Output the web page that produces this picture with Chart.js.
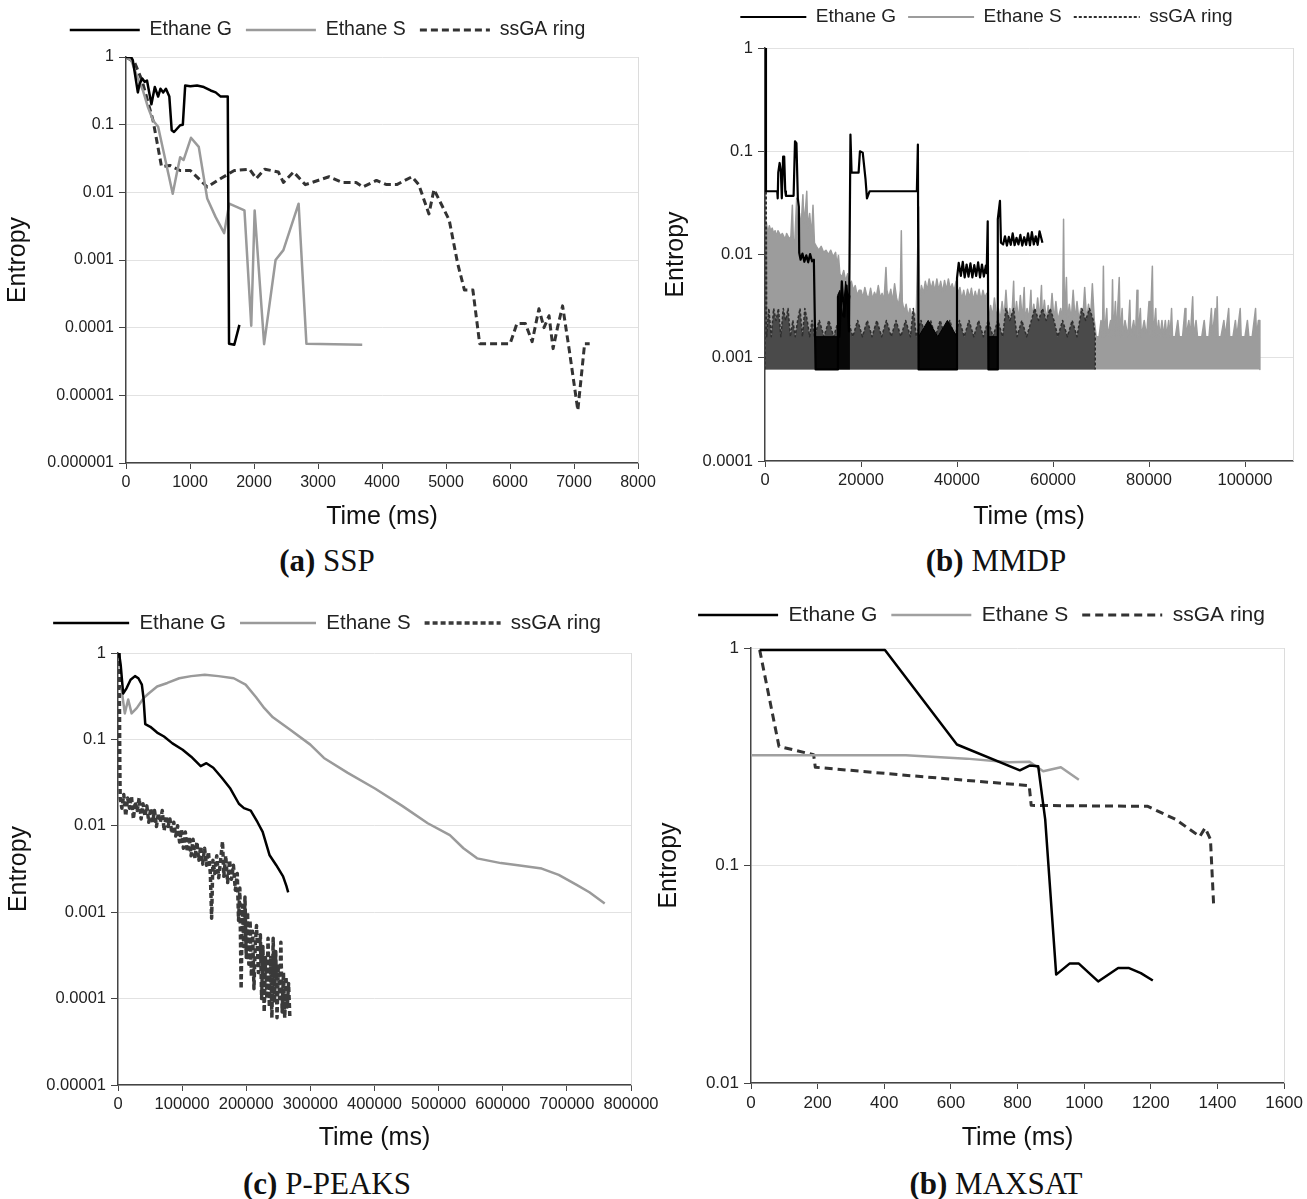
<!DOCTYPE html>
<html>
<head>
<meta charset="utf-8">
<script src="https://cdn.jsdelivr.net/npm/chart.js@4.4.1/dist/chart.umd.min.js"></script>
<style>
  html, body { margin: 0; padding: 0; background: #fff; }
  #page { position: relative; width: 1307px; height: 1199px; overflow: hidden; }
  canvas { position: absolute; }
  .cap { position: absolute; width: 400px; text-align: center; font-family: "Liberation Serif", "Times New Roman", serif; font-size: 31px; line-height: 36px; color: #111; }
</style>
</head>
<body>
<div id="page">
  <canvas id="ssp" width="660" height="532" style="left:0;top:0"></canvas>
  <canvas id="mmdp" width="652" height="532" style="left:655px;top:0"></canvas>
  <canvas id="ppeaks" width="665" height="555" style="left:0;top:600px"></canvas>
  <canvas id="maxsat" width="652" height="555" style="left:655px;top:600px"></canvas>
  <div class="cap" style="left:127px;top:543px"><b>(a)</b> SSP</div>
  <div class="cap" style="left:796px;top:543px"><b>(b)</b> MMDP</div>
  <div class="cap" style="left:127px;top:1166px"><b>(c)</b> P-PEAKS</div>
  <div class="cap" style="left:796px;top:1166px"><b>(b)</b> MAXSAT</div>
</div>
<script>
// ---- SSP ----
const sspYTicks = [1, 0.1, 0.01, 0.001, 0.0001, 0.00001, 0.000001];
const sspXTicks = [0, 1000, 2000, 3000, 4000, 5000, 6000, 7000, 8000];
const sspGTime = [0, 79, 106, 185, 212, 254, 291, 328, 397, 450,
                  502, 539, 582, 624, 677, 714, 751, 846, 888, 925,
                  1005, 1110, 1216, 1322, 1401, 1480, 1534, 1590, 1610, 1692,
                  1772];
const sspGVal = [1, 1, 0.9, 0.30, 0.4, 0.48, 0.43, 0.45, 0.2, 0.36,
                 0.26, 0.34, 0.3, 0.34, 0.26, 0.083, 0.078, 0.098, 0.1, 0.38,
                 0.37, 0.38, 0.36, 0.32, 0.3, 0.26, 0.26, 0.26, 0.000058, 0.000056,
                 0.00011];
const sspSTime = [0, 80, 180, 264, 344, 423, 502, 582, 661, 730,
                  793, 846, 899, 1015, 1137, 1269, 1401, 1534, 1613, 1745,
                  1851, 1957, 2010, 2158, 2337, 2459, 2697, 2819, 3691];
const sspSVal = [1, 0.9, 0.5, 0.32, 0.18, 0.115, 0.093, 0.042, 0.019, 0.0095,
                 0.019, 0.033, 0.03, 0.064, 0.047, 0.0081, 0.0043, 0.0025, 0.0068, 0.006,
                 0.0054, 0.000107, 0.0054, 0.000057, 0.001, 0.0014, 0.0068, 0.000058, 0.000056];
const sspRTime = [0, 132, 250, 423, 555, 687, 846, 1005, 1269, 1480,
                  1692, 1930, 2036, 2168, 2380, 2459, 2618, 2803, 3173, 3384,
                  3596, 3702, 3913, 4072, 4231, 4469, 4574, 4733, 4812, 5050,
                  5182, 5288, 5420, 5526, 6002, 6108, 6240, 6346, 6452, 6531,
                  6610, 6673, 6742, 6822, 6927, 7060, 7166, 7245];
const sspRVal = [1, 0.84, 0.45, 0.115, 0.024, 0.025, 0.021, 0.021, 0.012, 0.016,
                 0.021, 0.022, 0.016, 0.022, 0.020, 0.014, 0.020, 0.013, 0.017, 0.014,
                 0.014, 0.012, 0.015, 0.013, 0.013, 0.017, 0.013, 0.0048, 0.011, 0.0039,
                 0.00089, 0.00036, 0.00036, 0.000058, 0.000058, 0.000115, 0.000115, 0.000062, 0.00019, 0.0001,
                 0.00015, 0.000049, 0.0001, 0.00021, 0.000046, 0.000006, 0.000058, 0.000058];

// ---- MMDP ----
const mmdpYTicks = [1, 0.1, 0.01, 0.001, 0.0001];
const mmdpXTicks = [0, 20000, 40000, 60000, 80000, 100000];
const mmdpBase = 0.00077;
const mmdpGTime = [0, 200, 2550, 2650, 2760, 3050, 3300, 3500, 3780, 4000,
                   4220, 4360, 5960, 6250, 6550, 6840, 7050, 7130, 7420, 7800,
                   8200, 8600, 9000, 9400, 9800, 10180, 10550, 15000, 15200, 15500,
                   16000, 16500, 17000, 17500, 17800, 18040, 19500, 19780, 20360, 20950,
                   21240, 21800, 31640, 31850, 32000, 40000, 40000, 40360, 40800, 41200,
                   41600, 42000, 42400, 42800, 43200, 43600, 44000, 44400, 44800, 45200,
                   45600, 46000, 46180, 46400, 46550, 48400, 48500, 48950, 49160, 49600,
                   50000, 50400, 50800, 51200, 51600, 52000, 52400, 52800, 53200, 53600,
                   54000, 54400, 54800, 55200, 55600, 56000, 56400, 56800, 57200, 57800];
const mmdpGVal = [1, 0.041, 0.041, 0.035, 0.062, 0.077, 0.064, 0.035, 0.089, 0.089,
                  0.041, 0.037, 0.037, 0.125, 0.12, 0.035, 0.029, 0.0104, 0.0089, 0.0102,
                  0.0085, 0.0098, 0.0084, 0.0101, 0.0086, 0.0089, 0.00077, 0.00077, 0.0039, 0.0016,
                  0.0055, 0.0025, 0.005, 0.0018, 0.145, 0.062, 0.062, 0.1, 0.097, 0.053,
                  0.035, 0.041, 0.041, 0.116, 0.00077, 0.00077, 0.0059, 0.0083, 0.0062, 0.0085,
                  0.006, 0.008, 0.0061, 0.0082, 0.006, 0.0079, 0.0062, 0.0084, 0.006, 0.008,
                  0.0061, 0.0078, 0.0066, 0.021, 0.00077, 0.00077, 0.022, 0.033, 0.013, 0.0125,
                  0.015, 0.0122, 0.0148, 0.0124, 0.016, 0.0123, 0.0145, 0.0125, 0.0155, 0.0122,
                  0.0147, 0.0124, 0.016, 0.0123, 0.0165, 0.0125, 0.015, 0.0124, 0.0168, 0.013];
// solid black blocks of Ethane G near the floor
const mmdpGBandTime = [10550, 15000, 15050, 15100, 15600, 16200, 16800, 17400, 17700, 17750,
                       32000, 34000, 36000, 38000, 40000, 40050, 46550, 48400];
const mmdpGBandTop = [0.0016, 0.0016, null, 0.004, 0.0045, 0.0025, 0.0055, 0.003, 0.004, null,
                      0.0016, 0.0023, 0.0016, 0.0023, 0.0016, null, 0.0016, 0.0016];
const mmdpSTime = [0, 300, 600, 900, 1200, 1500, 1800, 2100, 2400, 2700,
  3000, 3300, 3600, 3900, 4200, 4500, 4800, 5100, 5400, 5700,
  5900, 6200, 6600, 6800, 7200, 7500, 7900, 8100, 8500, 8700,
  8900, 9300, 9700, 10000, 10300, 10700, 11200, 11700, 12200, 12700,
  13200, 13700, 14200, 14700, 15000, 15300, 15600, 16000, 16400, 16800,
  17200, 17600, 18000, 18400, 18800, 19200, 19600, 20000, 20400, 20800,
  21200, 21600, 22000, 22400, 22800, 23200, 23600, 24000, 24400, 24800,
  25200, 25400, 25800, 26200, 26600, 27000, 27400, 27800, 28200, 28400,
  28600, 29000, 29400, 29800, 30200, 30600, 31000, 31500, 32000, 32200,
  32600, 33000, 33400, 33800, 34200, 34600, 35000, 35400, 35800, 36200,
  36600, 37000, 37400, 37800, 38200, 38600, 39000, 39400, 39800, 40200,
  40600, 41000, 41400, 41800, 42200, 42600, 43000, 43400, 43800, 44200,
  44600, 45000, 45400, 45800, 46200, 46600, 47000, 47400, 47800, 48200,
  48600, 49000, 49400, 49800, 50200, 50600, 51000, 51400, 51800, 52000,
  52400, 52800, 53200, 53600, 54000, 54200, 54600, 55000, 55400, 55600,
  56000, 56400, 56800, 57200, 57600, 57800, 58200, 58600, 59000, 59400,
  59800, 60200, 60600, 61000, 61600, 62000, 62200, 62400, 62800, 63000,
  63400, 63800, 64200, 64600, 65000, 65400, 65800, 66200, 66600, 67000,
  67400, 67800, 68200, 68600, 69000, 69600, 70000, 70300, 70500, 70700,
  71200, 71400, 72000, 72200, 72400, 72600, 73000, 73200, 73800, 74000,
  74400, 74600, 75000, 75600, 76000, 76200, 76800, 77200, 77500, 77700,
  78200, 78400, 79000, 79500, 80000, 80200, 80700, 80900, 81400, 81600,
  82000, 82300, 82700, 83000, 83400, 83700, 84100, 84400, 84700, 84900,
  85500, 86000, 86300, 87000, 87500, 87700, 88300, 88600, 89100, 89300,
  89800, 90100, 91000, 91500, 91800, 92500, 93000, 93200, 93800, 94000,
  94200, 94400, 95000, 95600, 95900, 96600, 96800, 97500, 98000, 98300,
  99000, 99200, 100000, 100500, 100800, 101500, 102200, 102400, 102800, 103100,
  103100];
const mmdpSVal = [0.00077, 0.02, 0.016, 0.019, 0.017, 0.018, 0.016, 0.017, 0.015, 0.017,
  0.016, 0.015, 0.016, 0.015, 0.014, 0.016, 0.015, 0.014, 0.015, 0.03,
  0.014, 0.013, 0.035, 0.016, 0.025, 0.018, 0.038, 0.02, 0.03, 0.041,
  0.018, 0.025, 0.015, 0.03, 0.013, 0.012, 0.011, 0.012, 0.0105, 0.011,
  0.01, 0.011, 0.0095, 0.0105, 0.008, 0.0098, 0.0065, 0.006, 0.007, 0.0055,
  0.0065, 0.005, 0.0055, 0.0045, 0.005, 0.004, 0.0045, 0.0045, 0.0038, 0.0048,
  0.004, 0.0038, 0.0047, 0.0037, 0.0043, 0.0039, 0.005, 0.0038, 0.0042, 0.0036,
  0.0075, 0.0045, 0.0038, 0.0046, 0.0035, 0.0052, 0.0038, 0.0032, 0.0045, 0.017,
  0.0035, 0.0028, 0.0033, 0.0025, 0.003, 0.0025, 0.0028, 0.0024, 0.029, 0.0035,
  0.005, 0.0042, 0.0055, 0.0045, 0.0058, 0.0046, 0.0055, 0.0044, 0.0058, 0.0045,
  0.0055, 0.0043, 0.0056, 0.0045, 0.0058, 0.0046, 0.0052, 0.0044, 0.0055, 0.0042,
  0.0048, 0.0037, 0.0045, 0.0036, 0.0046, 0.0038, 0.0047, 0.0036, 0.0044, 0.0037,
  0.0046, 0.0036, 0.0045, 0.0038, 0.0042, 0.0023, 0.0032, 0.0025, 0.0038, 0.0025,
  0.003, 0.0023, 0.0035, 0.0024, 0.0045, 0.0023, 0.003, 0.0023, 0.0055, 0.0023,
  0.0035, 0.0023, 0.004, 0.0023, 0.0048, 0.0023, 0.003, 0.0023, 0.0045, 0.0023,
  0.0033, 0.0023, 0.0038, 0.0023, 0.005, 0.0023, 0.0036, 0.0023, 0.0032, 0.0023,
  0.0042, 0.0023, 0.0035, 0.0023, 0.003, 0.0023, 0.022, 0.0023, 0.006, 0.0023,
  0.0033, 0.0023, 0.0045, 0.0023, 0.0035, 0.0023, 0.003, 0.0023, 0.0048, 0.0023,
  0.0033, 0.0023, 0.0052, 0.0023, 0.0016, 0.0016, 0.0023, 0.0016, 0.0077, 0.0016,
  0.003, 0.0016, 0.0023, 0.0016, 0.0057, 0.0016, 0.0035, 0.0016, 0.006, 0.0016,
  0.003, 0.0016, 0.0023, 0.0016, 0.0036, 0.0016, 0.0023, 0.0016, 0.0045, 0.0016,
  0.003, 0.0016, 0.0023, 0.0016, 0.0035, 0.0016, 0.0077, 0.0016, 0.003, 0.0016,
  0.0023, 0.0016, 0.0023, 0.0016, 0.0023, 0.0016, 0.0023, 0.0016, 0.003, 0.0016,
  0.0016, 0.0023, 0.0016, 0.0016, 0.003, 0.0016, 0.0023, 0.0016, 0.0039, 0.0016,
  0.0023, 0.0016, 0.0016, 0.0023, 0.0016, 0.0016, 0.003, 0.0016, 0.003, 0.0016,
  0.0039, 0.0016, 0.0016, 0.0023, 0.0016, 0.003, 0.0016, 0.0016, 0.0023, 0.0016,
  0.003, 0.0016, 0.0016, 0.0023, 0.0016, 0.0016, 0.003, 0.0016, 0.0023, 0.0023,
  0.00077];
const mmdpRTime = [0, 150, 350, 800, 1300, 1800, 2300, 2800, 3300, 3800,
  4300, 4800, 5300, 5800, 6300, 6800, 7300, 7800, 8300, 8800,
  9300, 9800, 10300, 11300, 12300, 13300, 14300, 15300, 16300, 17300,
  18300, 19300, 20300, 21300, 22300, 23300, 24300, 25300, 26300, 27300,
  28300, 29300, 30300, 30900, 31500, 32500, 33500, 34500, 35500, 36500,
  37500, 38500, 39500, 40500, 41500, 42500, 43500, 44500, 45500, 46500,
  47500, 48500, 49500, 50200, 51000, 51800, 52500, 53500, 54500, 55500,
  56200, 57000, 57800, 58600, 59400, 60200, 61000, 62000, 63000, 64000,
  65000, 66000, 66800, 67600, 68400, 68800, 68800];
const mmdpRVal = [0.00077, 1, 0.0016, 0.003, 0.0016, 0.003, 0.0023, 0.003, 0.0016, 0.003,
  0.0023, 0.003, 0.0016, 0.0023, 0.0016, 0.0023, 0.003, 0.0016, 0.003, 0.0023,
  0.0016, 0.0023, 0.0016, 0.0023, 0.0016, 0.0023, 0.0016, 0.0023, 0.0016, 0.0023,
  0.0016, 0.0023, 0.0016, 0.0023, 0.0016, 0.0023, 0.0016, 0.0023, 0.0016, 0.0023,
  0.0016, 0.0023, 0.0016, 0.003, 0.0016, 0.0023, 0.0016, 0.0023, 0.0016, 0.0023,
  0.0016, 0.0023, 0.0016, 0.0023, 0.0016, 0.0023, 0.0016, 0.0023, 0.0016, 0.0023,
  0.0016, 0.0023, 0.0016, 0.003, 0.0023, 0.003, 0.0016, 0.0023, 0.0016, 0.0023,
  0.003, 0.0023, 0.003, 0.0023, 0.003, 0.0023, 0.0016, 0.0023, 0.0016, 0.0023,
  0.0016, 0.003, 0.0023, 0.003, 0.0023, 0.0016, 0.00077];

// ---- P-PEAKS ----
const ppYTicks = [1, 0.1, 0.01, 0.001, 0.0001, 0.00001];
const ppXTicks = [0, 100000, 200000, 300000, 400000, 500000, 600000, 700000, 800000];
const ppGTime = [1600, 4200, 8000, 13300, 19600, 26500, 31800, 37200, 39800, 42500,
                 50400, 61000, 71700, 84900, 100800, 114100, 128900, 137900, 148600, 161900,
                 175200, 188500, 196400, 207000, 217600, 225600, 236200, 246800, 257400, 262700,
                 265400];
const ppGVal = [1, 0.73, 0.34, 0.39, 0.49, 0.54, 0.51, 0.43, 0.30, 0.15,
                0.14, 0.12, 0.108, 0.09, 0.076, 0.063, 0.049, 0.053, 0.047, 0.036,
                0.027, 0.018, 0.016, 0.015, 0.011, 0.0085, 0.0046, 0.0035, 0.0026, 0.0020,
                0.0017];
const ppSTime = [5300, 10600, 15900, 21200, 29200, 39800, 47800, 61000, 77000, 95500,
                 114100, 135300, 156600, 180500, 199000, 215000, 228200, 241500, 268000, 299900,
                 321100, 358300, 400700, 443200, 483000, 517500, 538700, 560000, 597100, 623700,
                 660800, 687300, 713900, 735100, 759000];
const ppSVal = [0.39, 0.2, 0.29, 0.2, 0.23, 0.30, 0.34, 0.41, 0.45, 0.51,
                0.54, 0.56, 0.54, 0.51, 0.43, 0.31, 0.23, 0.18, 0.13, 0.087,
                0.061, 0.041, 0.027, 0.017, 0.0107, 0.0078, 0.0055, 0.0042, 0.0037, 0.0035,
                0.0032, 0.0027, 0.0021, 0.0017, 0.00126];
const ppRTime = [1600, 2200, 2800, 3400, 6000, 9000, 12000, 15000, 18000, 21000,
  24000, 27000, 30000, 33000, 36000, 39000, 42000, 45000, 48000, 51000,
  54000, 57000, 60000, 63000, 66000, 69000, 72000, 75000, 78000, 81000,
  84000, 87000, 90000, 93000, 96000, 99000, 102000, 105000, 108000, 111000,
  114000, 117000, 120000, 123000, 126000, 129000, 132000, 135000, 138000, 141000,
  144000, 146000, 148000, 151000, 154000, 157000, 160000, 163000, 165000, 168000,
  171000, 174000, 177000, 180000, 183000, 186000, 188000, 190000, 192000, 194000,
  196000, 198000, 200000, 202000, 204000, 206000, 208000, 210000, 212000, 214000,
  216000, 219000, 222000, 224000, 226000, 228000, 230000, 232000, 234000, 236000,
  238000, 240000, 242000, 244000, 246000, 248000, 250000, 252000, 254000, 256000,
  258000, 260000, 262000, 264000, 266000, 268000];
const ppRVal = [1, 0.3, 0.05, 0.021, 0.016, 0.023, 0.013, 0.021, 0.016, 0.022,
  0.012, 0.019, 0.015, 0.021, 0.012, 0.018, 0.013, 0.017, 0.011, 0.016,
  0.011, 0.015, 0.0098, 0.014, 0.011, 0.015, 0.0088, 0.013, 0.0098, 0.012,
  0.0082, 0.011, 0.0076, 0.01, 0.0065, 0.009, 0.0055, 0.0085, 0.005, 0.0075,
  0.0045, 0.007, 0.0042, 0.0065, 0.004, 0.0058, 0.0036, 0.0055, 0.0035, 0.005,
  0.0028, 0.00085, 0.004, 0.0028, 0.0045, 0.0025, 0.004, 0.0066, 0.0026, 0.0045,
  0.0022, 0.004, 0.0024, 0.0035, 0.0018, 0.0028, 0.0008, 0.0019, 0.00013, 0.0012,
  0.0004, 0.0015, 0.0003, 0.001, 0.00025, 0.0008, 0.00018, 0.0006, 0.00013, 0.0004,
  0.0007, 0.0002, 0.00055, 0.0001, 0.0004, 0.00007, 0.0003, 0.0001, 0.0005, 0.00008,
  0.0003, 0.00006, 0.0005, 0.00009, 0.00035, 0.00006, 0.00025, 0.0001, 0.00045, 0.00007,
  0.0002, 0.00006, 0.00018, 0.00008, 0.00015, 0.00006];

// ---- MAXSAT ----
const msYTicks = [1, 0.1, 0.01];
const msXTicks = [0, 200, 400, 600, 800, 1000, 1200, 1400, 1600];
const msGTime = [26, 402, 618, 807, 836, 862, 883, 916, 956, 984, 1042, 1102, 1133, 1170, 1206];
const msGVal = [0.98, 0.98, 0.36, 0.274, 0.288, 0.286, 0.163, 0.0315, 0.0354, 0.0354, 0.0293, 0.0338, 0.0338, 0.032, 0.0296];
const msSTime = [0, 465, 647, 773, 836, 877, 930, 984];
const msSVal = [0.321, 0.321, 0.31, 0.298, 0.3, 0.271, 0.283, 0.248];
const msRTime = [26, 84, 188, 193, 501, 835, 841, 1191, 1274, 1347, 1363, 1379, 1389];
const msRVal = [0.98, 0.353, 0.323, 0.283, 0.257, 0.233, 0.189, 0.187, 0.163, 0.136, 0.149, 0.132, 0.0638];

const FONT = '"Liberation Sans", Arial, sans-serif';

function pts(xs, ys) {
    return xs.map((x, i) => ({ x: x, y: ys[i] }));
}

// legend samples take dash and width from the dataset line, not the point
function lineLabels(chart) {
    return Chart.defaults.plugins.legend.labels.generateLabels(chart).map(it => {
        const ds = chart.data.datasets[it.datasetIndex];
        it.lineDash = ds.borderDash || [];
        it.lineWidth = Math.max(2, ds.borderWidth);
        it.strokeStyle = ds.borderColor;
        return it;
    });
}

// legend gets a fixed height so the plot top lands where it should
const legendHeight = {
    id: 'legendHeight',
    afterInit(chart, args, opts) {
        const lg = chart.legend;
        const fit = lg.fit;
        lg.fit = function () { fit.call(this); this.height = opts.height; };
    }
};

// faint right edge of the plot area
const plotFrame = {
    id: 'plotFrame',
    beforeDatasetsDraw(chart) {
        const { ctx, chartArea: a } = chart;
        ctx.save();
        ctx.strokeStyle = '#dcdcdc';
        ctx.lineWidth = 1;
        ctx.beginPath();
        ctx.moveTo(Math.round(a.right) + 0.5, a.top);
        ctx.lineTo(Math.round(a.right) + 0.5, a.bottom);
        ctx.stroke();
        ctx.restore();
    }
};

function panel(id, o) {
    return new Chart(document.getElementById(id), {
        type: 'line',
        data: { datasets: o.datasets },
        options: {
            responsive: false,
            animation: false,
            devicePixelRatio: 1,
            elements: { point: { radius: 0 }, line: { tension: 0, borderJoinStyle: 'round' } },
            layout: { padding: { top: o.padTop, right: o.padRight, left: o.padLeft, bottom: 0 } },
            plugins: {
                legend: {
                    position: 'top',
                    labels: {
                        usePointStyle: true, pointStyle: 'line',
                        pointStyleWidth: o.boxWidth, boxWidth: o.boxWidth, boxHeight: 2,
                        padding: o.legendPad,
                        color: '#222', font: { family: FONT, size: o.legendSize },
                        generateLabels: lineLabels,
                        filter: it => it.datasetIndex < 3,
                        sort: (a, b) => a.datasetIndex - b.datasetIndex
                    }
                },
                legendHeight: { height: o.legendHeight },
                tooltip: { enabled: false }
            },
            scales: {
                x: {
                    type: 'linear', min: o.xMin, max: o.xMax,
                    afterFit: s => { s.height = o.xHeight; },
                    afterBuildTicks: s => { s.ticks = o.xTicks.map(v => ({ value: v })); },
                    ticks: { callback: v => String(v), autoSkip: false, maxRotation: 0, color: '#222', font: { family: FONT, size: o.tickSize }, padding: 4 },
                    grid: { drawOnChartArea: false, tickLength: 6, tickColor: '#444' },
                    border: { color: '#444', width: 1.5 },
                    title: { display: true, text: 'Time (ms)', color: '#111', font: { family: FONT, size: 25 }, padding: { top: 0, bottom: o.xTitlePad } }
                },
                y: {
                    type: 'logarithmic', min: o.yMin, max: o.yMax,
                    afterFit: s => { s.width = o.yWidth; },
                    afterBuildTicks: s => { s.ticks = o.yTicks.map(v => ({ value: v })); },
                    ticks: { callback: v => String(v), autoSkip: false, color: '#222', font: { family: FONT, size: o.tickSize }, padding: 5 },
                    grid: { color: '#e2e2e2', tickLength: 7, tickColor: '#444' },
                    border: { color: '#444', width: 1.5 },
                    title: { display: true, text: 'Entropy', color: '#111', font: { family: FONT, size: 25 }, padding: { top: o.yTitlePad, bottom: 0 } }
                }
            }
        },
        plugins: [legendHeight, plotFrame]
    });
}

panel('ssp', {
    padTop: 6.25, padRight: 22, padLeft: 17, legendPad: 14, legendHeight: 50.75, legendSize: 19.5, boxWidth: 70,
    xMin: 0, xMax: 8000, xTicks: sspXTicks, xHeight: 69, xTitlePad: 0, tickSize: 16,
    yMin: 0.000001, yMax: 1, yTicks: sspYTicks, yWidth: 109, yTitlePad: -14,
    datasets: [
        { label: 'Ethane G', data: pts(sspGTime, sspGVal), borderColor: '#000', backgroundColor: '#000', borderWidth: 2.5 },
        { label: 'Ethane S', data: pts(sspSTime, sspSVal), borderColor: '#9a9a9a', backgroundColor: '#9a9a9a', borderWidth: 2.5 },
        { label: 'ssGA ring', data: pts(sspRTime, sspRVal), borderColor: '#333', backgroundColor: '#333', borderWidth: 3, borderDash: [7, 4] }
    ]
});

panel('mmdp', {
    padTop: -4.5, padRight: 14, padLeft: 25, legendPad: 12, legendHeight: 52.5, legendSize: 19, boxWidth: 66,
    xMin: 0, xMax: 110000, xTicks: mmdpXTicks, xHeight: 71, xTitlePad: 0, tickSize: 16.5,
    yMin: 0.0001, yMax: 1, yTicks: mmdpYTicks, yWidth: 85, yTitlePad: -19,
    datasets: [
        { label: 'Ethane G', data: pts(mmdpGTime, mmdpGVal), borderColor: '#000', backgroundColor: '#000', borderWidth: 2.2, order: 0 },
        { label: 'Ethane S', data: pts(mmdpSTime, mmdpSVal), borderColor: '#9c9c9c', backgroundColor: '#9c9c9c', borderWidth: 1.5, fill: { value: mmdpBase }, order: 2 },
        { label: 'ssGA ring', data: pts(mmdpRTime, mmdpRVal), borderColor: '#2e2e2e', backgroundColor: '#4a4a4a', borderWidth: 1.5, borderDash: [3, 2], fill: { value: mmdpBase }, order: 1 },
        { label: 'Ethane G floor', data: pts(mmdpGBandTime, mmdpGBandTop), borderColor: '#000', backgroundColor: '#080808', borderWidth: 1, fill: { value: mmdpBase }, spanGaps: false, order: 0 }
    ]
});

panel('ppeaks', {
    padTop: -1.25, padRight: 34, padLeft: 23, legendPad: 14, legendHeight: 54.25, legendSize: 20.5, boxWidth: 76,
    xMin: 0, xMax: 800000, xTicks: ppXTicks, xHeight: 70, xTitlePad: 2, tickSize: 16.5,
    yMin: 0.00001, yMax: 1, yTicks: ppYTicks, yWidth: 95, yTitlePad: -19,
    datasets: [
        { label: 'Ethane G', data: pts(ppGTime, ppGVal), borderColor: '#000', backgroundColor: '#000', borderWidth: 2.5 },
        { label: 'Ethane S', data: pts(ppSTime, ppSVal), borderColor: '#9a9a9a', backgroundColor: '#9a9a9a', borderWidth: 2.5 },
        { label: 'ssGA ring', data: pts(ppRTime, ppRVal), borderColor: '#3a3a3a', backgroundColor: '#3a3a3a', borderWidth: 3.5, borderDash: [5, 3] }
    ]
});

panel('maxsat', {
    padTop: -9.5, padRight: 21, padLeft: 22, legendPad: 14, legendHeight: 57.5, legendSize: 21, boxWidth: 80,
    xMin: 0, xMax: 1600, xTicks: msXTicks, xHeight: 72, xTitlePad: 2, tickSize: 17,
    yMin: 0.01, yMax: 1, yTicks: msYTicks, yWidth: 74, yTitlePad: -22.5,
    datasets: [
        { label: 'Ethane G', data: pts(msGTime, msGVal), borderColor: '#000', backgroundColor: '#000', borderWidth: 2.5 },
        { label: 'Ethane S', data: pts(msSTime, msSVal), borderColor: '#a0a0a0', backgroundColor: '#a0a0a0', borderWidth: 2.5 },
        { label: 'ssGA ring', data: pts(msRTime, msRVal), borderColor: '#333', backgroundColor: '#333', borderWidth: 3, borderDash: [8, 5] }
    ]
});
</script>
</body>
</html>
